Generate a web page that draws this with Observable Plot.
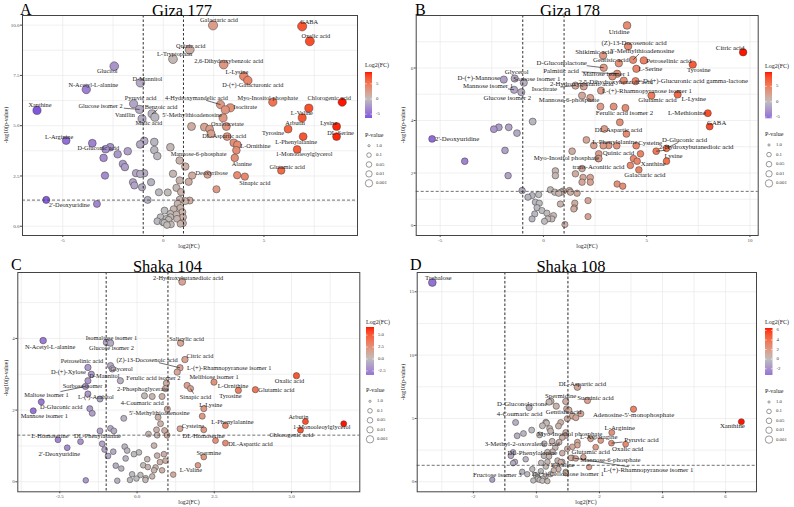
<!DOCTYPE html>
<html>
<head>
<meta charset="utf-8">
<script src="https://cdn.jsdelivr.net/npm/d3@7"></script>
<script src="https://cdn.jsdelivr.net/npm/@observablehq/plot@0.6"></script>
<style>
  html, body { margin: 0; padding: 0; background: #fff; }
  #page { position: relative; width: 794px; height: 507px; overflow: hidden; font-family: "Liberation Serif", "DejaVu Serif", serif; }
</style>
</head>
<body>
<div id="page"></div>
<script>
// ---------- Data: [metabolite, log2(FC), -log10(p)] for labelled points; [log2(FC), -log10(p)] for the rest ----------

const giza177Labeled = [
  ["Xanthine", -6.28, 5.76], ["2'-Deoxyuridine", -5.82, 1.31], ["L-Arginine", -4.83, 4.26],
  ["N-Acetyl-L-alanine", -3.83, 6.80], ["Glucitol", -2.44, 7.96], ["D-Mannitol", -1.14, 7.13],
  ["D-Gluconic acid", -3.53, 4.13], ["Pyruvic acid", -1.48, 6.09], ["Glucose isomer 2", -1.18, 5.81],
  ["Benzoic acid", -0.56, 5.59], ["Vanillin", -1.06, 5.34], ["Malic acid", -0.42, 5.42],
  ["Quinic acid", 1.31, 8.78], ["L-Tryptophan", 0.48, 8.31], ["Galactaric acid", 2.47, 9.99],
  ["2,6-Dihydroxybenzoic acid", 3.0, 8.04], ["L-Lysine", 4.0, 7.46], ["D-(+)-Galacturonic acid", 4.2, 7.25],
  ["4-Hydroxymandelic acid", 2.84, 6.05], ["Isocitrate", 3.33, 5.89], ["5'-Methylthioadenosine", 2.97, 5.39],
  ["Oxaloacetate", 3.13, 4.96], ["DL-Aspartic acid", 3.17, 4.46], ["L-Ornithine", 3.63, 3.78],
  ["Mannose-6-phosphate", 0.81, 3.27], ["Alanine", 3.55, 3.40], ["Deoxyribose", 2.2, 2.57],
  ["Sinapic acid", 4.05, 2.47], ["Myo-Inositol phosphate", 5.44, 6.17], ["GABA", 6.9, 9.94],
  ["Oxalic acid", 7.28, 9.2], ["Chlorogenic acid", 8.89, 6.17], ["L-Valine", 7.23, 5.87],
  ["Arbutin", 6.9, 5.39], ["Lysine", 8.61, 4.96], ["DL-Serine", 8.61, 4.46], ["Tyrosine", 6.2, 4.83],
  ["L-Phenylalanine", 6.95, 4.46], ["1-Monooleoylglycerol", 6.65, 3.82], ["Glutamic acid", 5.86, 2.77]
];
const giza177Other = [
  [-3.3, 1.11], [-2.87, 3.83], [-2.64, 3.93], [-2.27, 3.58], [-2.97, 3.40], [-1.77, 3.73], [-2.01, 3.1],
  [-1.91, 2.94], [-2.9, 2.52], [-1.36, 2.64], [-1.15, 2.6], [-0.95, 2.64], [-1.51, 2.19], [-1.44, 2.03],
  [-1.06, 1.94], [-0.61, 2.19], [-0.78, 1.31], [-1.15, 4.07], [-0.95, 4.24], [-0.45, 4.19], [-0.45, 3.79],
  [-0.3, 3.49], [-0.22, 1.69],
  [1.4, 4.96], [2.04, 4.93], [2.3, 4.83], [2.37, 4.6], [3.08, 5.79], [3.5, 4.15], [3.68, 4.05],
  [1.43, 2.52], [2.64, 1.84], [3.67, 2.54], [0.35, 3.93], [1.09, 2.97], [0.48, 2.61], [0.81, 2.28],
  [1.26, 2.21], [0.65, 1.91], [0.22, 1.68], [0.88, 1.7], [0.81, 1.32], [1.09, 1.25], [0.71, 1.12],
  [1.31, 1.28], [0.85, 0.91], [0.51, 0.85], [0.06, 0.78], [0.35, 0.62], [0.65, 0.58], [0.98, 0.45],
  [0.26, 0.32], [-0.02, 0.2], [0.18, 0.06], [0.85, 0.12], [-0.3, 0.25], [0.05, 0.17], [0.35, 0.45],
  [0.68, 0.37], [0.95, 0.7], [-0.14, 0.45], [0.15, 0.37], [0.38, 0.09], [0.98, 0.15]
];

const giza178Labeled = [
  ["2'-Deoxyuridine", -5.39, 3.30], ["D-(+)-Mannose", -1.92, 5.56], ["Glycerol", -1.39, 5.6],
  ["Sorbose isomer 1", -0.95, 5.44], ["Mannose isomer 1", -1.42, 5.17], ["Glucose isomer 2", -1.07, 5.08],
  ["D-Gluconolactone", 2.92, 6.01], ["Palmitic acid", 3.57, 5.78], ["Maltose isomer 1", 3.34, 5.68],
  ["Shikimic acid", 2.89, 6.48], ["Gentisic acid", 3.65, 6.18], ["(Z)-13-Docosenoic acid", 4.1, 6.83],
  ["Uridine", 4.05, 7.62], ["5'-Methylthioadenosine", 4.34, 6.31], ["Petroselinic acid", 4.86, 6.29],
  ["L-Serine", 4.5, 5.97], ["Tyrosine", 7.23, 6.13], ["Citric acid", 9.67, 6.6],
  ["2,5-Dihydroxybenzoic acid", 3.89, 5.52], ["D-(+)-Glucuronic acid gamma-lactone", 4.46, 5.5],
  ["2-Hydroxyglutaric acid", 1.95, 5.3], ["Isocitrate", 1.55, 5.33],
  ["L-(+)-Rhamnopyranose isomer 1", 2.79, 5.14], ["Mannose-6-phosphate", 1.87, 4.95],
  ["Glutamic acid", 5.23, 4.95], ["L-Lysine", 6.5, 4.99], ["L-Methionine", 7.96, 4.28], ["GABA", 8.05, 3.77],
  ["Ferulic acid isomer 2", 3.97, 4.48], ["DL-Aspartic acid", 4.02, 3.49], ["L-Phenylalanine", 3.16, 3.05],
  ["Cysteine", 4.49, 3.04], ["D-Gluconic acid", 5.96, 2.94], ["2-Hydroxybutanedioic acid", 5.46, 2.83],
  ["Lysine", 5.96, 2.45], ["Xanthine", 4.54, 2.45], ["Galactaric acid", 4.62, 2.12],
  ["Quinic acid", 4.36, 2.55], ["Myo-Inositol phosphate", 2.66, 2.55], ["trans-Aconitic acid", 4.21, 2.29]
];
const giza178Other = [
  [-3.81, 2.45], [-2.4, 3.67], [-2.16, 3.74], [-1.68, 3.74], [-1.28, 3.52], [-1.86, 2.86], [-1.71, 1.9],
  [-0.52, 3.96], [-1.03, 1.33], [-0.75, 1.08], [-0.55, 1.14], [-0.23, 1.18], [-0.39, 0.89], [-0.2, 0.85],
  [-0.31, 0.68], [-0.07, 0.57], [0.17, 0.47], [0.41, 0.25], [0.21, 0.25], [0.05, 0.16], [0.49, 0.38],
  [-0.42, 0.44], [-0.55, 0.25], [1.04, 0.04], [0.34, 1.36], [0.55, 1.27], [0.74, 1.23], [0.95, 1.31],
  [0.82, 0.82], [0.58, 1.9], [0.58, 2.08], [1.26, 1.33], [1.63, 1.23], [1.52, 0.85], [1.47, 0.63],
  [2.16, 0.95], [2.16, 0.34], [3.57, 1.58], [3.84, 1.5], [3.4, 4.53], [2.76, 4.53], [3.7, 3.93],
  [2.95, 3.68], [2.44, 3.05], [2.08, 3.26], [2.9, 3.04], [3.55, 3.04], [2.68, 2.73], [2.68, 2.55],
  [4.7, 2.73], [1.39, 2.83], [1.92, 1.83], [2.27, 1.83], [2.27, 1.65], [1.87, 1.65], [2.27, 4.86],
  [0.86, 1.27], [1.31, 1.27], [1.5, 0.67], [1.55, 1.97], [1.87, 2.17]
];

const shaka104Labeled = [
  ["2-Hydroxybutanedioic acid", 1.46, 5.58], ["Salicylic acid", 1.41, 3.87], ["Citric acid", 1.55, 3.41],
  ["(Z)-13-Docosenoic acid", 1.39, 3.18], ["L-(+)-Rhamnopyranose isomer 1", 1.3, 3.06],
  ["Melibiose isomer 1", 1.62, 2.69], ["Sinapic acid", 1.73, 2.6], ["L-Ornithine", 2.49, 2.78],
  ["Tyrosine", 3.28, 2.55], ["Glutamic acid", 3.83, 2.57], ["Oxalic acid", 5.16, 2.96],
  ["L-Lysine", 2.16, 2.04], ["L-Phenylalanine", 2.86, 1.57], ["Cysteine", 1.39, 1.48],
  ["DL-Homoserine", 2.54, 1.15], ["DL-Aspartic acid", 2.86, 1.08], ["Spermine", 2.16, 0.69],
  ["L-Valine", 1.97, 0.46], ["Arbutin", 5.45, 1.68], ["1-Monooleoylglycerol", 6.69, 1.62],
  ["Chlorogenic acid", 5.29, 1.44], ["N-Acetyl-L-alanine", -3.04, 3.94], ["Isomaltose isomer 1", -0.99, 3.89],
  ["Glucose isomer 2", -0.86, 3.87], ["Petroselinic acid", -1.59, 3.19], ["Glycerol", -0.86, 3.24],
  ["D-(+)-Xylose", -1.48, 3.0], ["D-Mannitol", -0.8, 3.15], ["Ferulic acid isomer 2", 0.95, 2.75],
  ["Sorbose isomer 1", -1.59, 2.82], ["Maltose isomer 1", -1.67, 2.66], ["L-(-)-Arabitol", -1.59, 2.45],
  ["D-Gluconic acid", -3.1, 2.23], ["Mannose isomer 1", -3.36, 1.98], ["2-Phosphoglycerate", 0.24, 2.4],
  ["4-Coumaric acid", 0.49, 2.38], ["5'-Methylthioadenosine", 0.98, 2.03], ["L-Homoserine", -2.56, 1.17],
  ["DL-Phenylalanine", -1.83, 1.12], ["2'-Deoxyuridine", -2.26, 0.95]
];
const shaka104Other = [
  [-1.2, 2.31], [-1.53, 2.04], [-1.45, 1.91], [-1.2, 1.42], [-0.86, 1.49], [-0.75, 1.42], [-1.13, 1.06],
  [-1.05, 0.9], [-0.43, 1.77], [-1.66, 0.04], [-0.54, 2.82], [-0.32, 0.87], [-0.1, 0.77], [0.06, 0.82],
  [0.33, 0.63], [0.2, 0.46], [-0.37, 0.65], [-0.69, 0.45], [-0.51, 0.37], [-0.64, 0.03], [-0.16, 0.21],
  [-0.02, 0.09], [-0.23, 0.05], [0.11, 0.19], [0.27, 0.05], [0.49, 0.15], [0.6, 0.4], [0.65, 0.73],
  [0.87, 0.77], [0.92, 0.59], [-0.77, 0.84], [-0.94, 0.72], [-0.4, 0.98], [0.81, 2.38], [0.68, 1.8],
  [0.76, 1.62], [0.63, 1.45], [0.89, 1.43], [0.37, 1.33], [0.65, 1.3], [0.97, 1.3], [0.55, 1.01],
  [0.74, 0.55], [0.81, 0.32], [0.55, 0.32], [0.28, 0.1], [0.35, 0.41], [1.17, 0.2], [2.11, 1.83],
  [2.16, 1.45], [0.92, 2.6]
];

const shaka108Labeled = [
  ["Trehalose", -3.3, 15.73], ["Fructose isomer 3", -1.4, 0.16], ["D-Gluconolactone", -0.23, 5.86],
  ["4-Coumaric acid", -0.66, 4.68], ["Spermidine", 0.93, 6.34], ["DL-Aspartic acid", 1.3, 7.47],
  ["Succinic acid", 1.62, 6.42], ["Gentisic acid", 0.96, 5.76], ["Adenosine-5'-monophosphate", 3.08, 5.73],
  ["Xanthine", 6.5, 4.74], ["L-Arginine", 2.39, 3.89], ["L-Asparagine", 2.04, 3.26],
  ["Pyruvic acid", 2.38, 3.05], ["Oxalic acid", 2.83, 2.97], ["Glutamic acid", 1.88, 2.73],
  ["Mannose-6-phosphate", 1.49, 1.94], ["L-(+)-Rhamnopyranose isomer 1", 1.14, 1.89],
  ["Myo-Inositol phosphate", 0.93, 3.65], ["3-Methyl-2-oxovaleric acid", 0.72, 3.13],
  ["DL-Phenylalanine", 0.35, 2.34], ["L-Valine", 0.77, 1.55], ["D-(+)-Cellobiose isomer 1", 0.93, 0.68]
];
const shaka108Other = [
  [-0.41, 3.81], [-0.61, 3.63], [-0.15, 4.08], [-0.74, 2.32], [-0.81, 2.05], [-0.68, 1.57], [-0.74, 1.47],
  [-0.34, 1.78], [-0.45, 0.79], [-0.29, 0.6], [-0.13, 1.0], [-0.02, 0.53], [0.03, 0.21], [0.19, 0.08],
  [0.35, 0.05], [0.29, 0.42], [0.14, 0.84], [0.24, 2.05], [0.4, 2.0], [0.51, 2.37], [0.35, 1.57],
  [0.6, 1.26], [0.19, 4.42], [0.32, 4.63], [0.42, 4.21], [0.77, 4.68], [0.93, 3.89], [0.82, 3.5],
  [0.98, 4.98], [1.14, 5.19], [1.25, 5.06], [0.63, 5.97], [0.4, 6.29], [1.03, 5.66], [1.14, 2.76],
  [1.3, 2.89], [1.25, 1.84], [0.93, 0.79], [0.82, 1.57], [0.05, 0.3], [0.1, 0.15], [-0.1, 0.1],
  [0.2, 0.25], [0.45, 0.6], [0.55, 0.9], [0.7, 1.0], [0.5, 3.2], [0.6, 2.7], [0.25, 3.0], [0.45, 4.0],
  [0.1, 3.7], [0.7, 4.4], [0.3, 1.2], [0.15, 1.5], [1.41, 5.37], [1.72, 3.39], [1.3, 3.13], [0.98, 2.6],
  [0.82, 2.26], [1.09, 1.89], [0.67, 1.68], [1.67, 1.16], [0.3, 4.7], [0.46, 6.36]
];

// Thresholds drawn as dashed guides
const fcCutoffs = [-1, 1];
const pCutoff = -Math.log10(0.05);

// Size-legend entries
const pLegendLabels = ["1.0", "0.1", "0.05", "0.01", "0.001"];

// ---------- Layout (label offsets in px: [dx, dy, draw connector]) ----------
const SERIF = "'Liberation Serif', 'DejaVu Serif', serif";

const nudges177 = {
  "Xanthine": [3, -5], "L-Arginine": [-7, -4], "N-Acetyl-L-alanine": [7, -5], "Glucitol": [-7, 5],
  "D-Mannitol": [7, -4], "Pyruvic acid": [7, -6], "Glucose isomer 2": [-39, -3, 1], "Benzoic acid": [9, -7, 1],
  "Vanillin": [-17, -4], "Malic acid": [-6, 6], "5'-Methylthioadenosine": [-31, -3], "4-Hydroxymandelic acid": [-24, -7, 1],
  "D-Gluconic acid": [6, 5], "2'-Deoxyuridine": [23, 5], "L-Tryptophan": [1.5, -5], "Quinic acid": [1, -4],
  "Galactaric acid": [6, -5], "2,6-Dihydroxybenzoic acid": [5, -4], "L-Lysine": [-7, -4], "D-(+)-Galacturonic acid": [5, 5],
  "Myo-Inositol phosphate": [-5, -4], "Isocitrate": [15, -1], "Oxaloacetate": [1, -3], "DL-Aspartic acid": [-3, -1],
  "L-Ornithine": [19, -4], "Mannose-6-phosphate": [19, -7], "Alanine": [7, 6], "Deoxyribose": [4, -2],
  "Sinapic acid": [10, 6], "Glutamic acid": [6, -4], "GABA": [7, -4], "Oxalic acid": [6, -5],
  "Chlorogenic acid": [-13, -4], "L-Valine": [-7, 5], "Arbutin": [-7, 5], "Lysine": [-8, -4], "DL-Serine": [4, -4],
  "Tyrosine": [-15, 4], "L-Phenylalanine": [-7, 5], "1-Monooleoylglycerol": [7, 5]
};
const nudges178 = {
  "2'-Deoxyuridine": [25, 0], "D-(+)-Mannose": [-25, -2], "Glycerol": [2, -7], "Sorbose isomer 1": [13, -4],
  "Mannose isomer 1": [-26, -4, 1], "Glucose isomer 2": [-14, 6], "D-Gluconolactone": [-42, -5, 1],
  "Palmitic acid": [-56, -3, 1], "Maltose isomer 1": [-6, -3], "Shikimic acid": [-9, -4], "Gentisic acid": [-8, -3],
  "(Z)-13-Docosenoic acid": [6, -3], "Uridine": [-8, 6], "5'-Methylthioadenosine": [9, -9, 1],
  "Petroselinic acid": [25, 0], "L-Serine": [14, 0], "Tyrosine": [6, 5], "Citric acid": [-13, -4],
  "2,5-Dihydroxybenzoic acid": [-8, 1], "D-(+)-Glucuronic acid gamma-lactone": [60, 0, 1],
  "2-Hydroxyglutaric acid": [-2, -3], "Isocitrate": [-31, 3, 1], "L-(+)-Rhamnopyranose isomer 1": [46, 0],
  "Mannose-6-phosphate": [-13, 4], "Glutamic acid": [6, 4], "L-Lysine": [16, 4], "L-Methionine": [-21, 0],
  "GABA": [7, -4], "Ferulic acid isomer 2": [-1, 5], "DL-Aspartic acid": [-8, -4], "L-Phenylalanine": [6, -4],
  "Cysteine": [14, -3], "D-Gluconic acid": [18, -9, 1], "2-Hydroxybutanedioic acid": [40, -4, 1],
  "Lysine": [7, -5], "Xanthine": [16, 3], "Galactaric acid": [6, 5], "Quinic acid": [-15, -6],
  "Myo-Inositol phosphate": [-32, -1, 1], "trans-Aconitic acid": [-32, 1]
};
const nudges104 = {
  "2-Hydroxybutanedioic acid": [6, -4], "Salicylic acid": [6, -4], "Citric acid": [15, -4],
  "(Z)-13-Docosenoic acid": [-33, -8, 1], "L-(+)-Rhamnopyranose isomer 1": [52, -4], "Melibiose isomer 1": [27, -8],
  "Sinapic acid": [5, 8, 1], "L-Ornithine": [19, 4], "Tyrosine": [-8, 6], "Glutamic acid": [21, 0],
  "Oxalic acid": [-7, 5], "L-Lysine": [7, -4], "L-Phenylalanine": [7, -4], "Cysteine": [13, -3],
  "DL-Homoserine": [-12, -5], "DL-Aspartic acid": [25, 1], "Spermine": [5, -4], "L-Valine": [-7, 5],
  "Arbutin": [-7, -5], "1-Monooleoylglycerol": [-22, 3], "Chlorogenic acid": [-9, 5], "N-Acetyl-L-alanine": [7, 6],
  "Isomaltose isomer 1": [5, -4], "Glucose isomer 2": [1, 5], "Petroselinic acid": [-6, -7], "Glycerol": [11, 3],
  "D-(+)-Xylose": [-23, -2], "D-Mannitol": [-8, 7], "Ferulic acid isomer 2": [-13, -5], "Sorbose isomer 1": [-3, 5],
  "Maltose isomer 1": [-39, 8, 1], "L-(-)-Arabitol": [8, 3], "D-Gluconic acid": [20, 5], "Mannose isomer 1": [11, 5],
  "2-Phosphoglycerate": [-2, -7], "4-Coumaric acid": [-10, 6], "5'-Methylthioadenosine": [-8, 4],
  "L-Homoserine": [-8, -4], "DL-Phenylalanine": [17, -6], "2'-Deoxyuridine": [-8, 6]
};
const nudges108 = {
  "Trehalose": [6, -5], "Fructose isomer 3": [5, -5], "D-Gluconolactone": [-7, -4], "4-Coumaric acid": [4, -9],
  "Spermidine": [-5, -6], "DL-Aspartic acid": [5, -3], "Succinic acid": [8, -3], "Gentisic acid": [-3, 3],
  "Adenosine-5'-monophosphate": [0, 6], "Xanthine": [-9, 4], "L-Arginine": [8, -5], "L-Asparagine": [-2, -4],
  "Pyruvic acid": [30, -3, 1], "Oxalic acid": [2, 5], "Glutamic acid": [-5, 5], "Mannose-6-phosphate": [27, 3, 1],
  "L-(+)-Rhamnopyranose isomer 1": [76, 12, 1], "Myo-Inositol phosphate": [4, -2],
  "3-Methyl-2-oxovaleric acid": [-37, 2], "DL-Phenylalanine": [-15, 1], "L-Valine": [2, 3],
  "D-(+)-Cellobiose isomer 1": [2, 1]
};

const fmtInt = d => String(d);
const fmt1 = d => d.toFixed(1);

const panels = [
  {
    letter: "A", title: "Giza 177", labeled: giza177Labeled, other: giza177Other, nudge: nudges177,
    left: 0, top: 0, width: 360, height: 253, margin: [15, 3, 18, 22],
    xDomain: [-7.0, 9.65], yDomain: [-0.46, 10.48],
    xTicks: [-5, 0, 5], yTicks: [0, 2.5, 5, 7.5, 10], xFormat: fmtInt, yFormat: fmt1,
    xGridStep: 2.5, yGridStep: 1.25, rMax: 10, rRange: [3.4, 4.6], labelSize: 6.3,
    letterPos: [20, 14.5], titlePos: [182, 15.5],
    xTitle: [189, 248], yTitle: [7, 125],
    legend: { x: 365, titleY: 67, barTop: 72, barH: 46, barW: 7, ticks: [5, 0, -5], fmt: fmtInt,
              pTitleY: 137, pY0: 145.7, pStep: 9.4 }
  },
  {
    letter: "B", title: "Giza 178", labeled: giza178Labeled, other: giza178Other, nudge: nudges178,
    left: 395, top: 0, width: 366, height: 253, margin: [15, 3.3, 18, 20.7],
    xDomain: [-6.16, 10.4], yDomain: [-0.38, 8.0],
    xTicks: [-5, 0, 5, 10], yTicks: [0, 2, 4, 6], xFormat: fmtInt, yFormat: fmtInt,
    xGridStep: 2.5, yGridStep: 1, rMax: 8, rRange: [3.1, 3.9], labelSize: 6.8,
    letterPos: [415, 14.5], titlePos: [570, 15.5],
    xTitle: [587, 248], yTitle: [404, 125],
    legend: { x: 765, titleY: 67.5, barTop: 72, barH: 46.3, barW: 7, ticks: [5, 0, -5], fmt: fmtInt,
              pTitleY: 136.3, pY0: 145, pStep: 9.6 }
  },
  {
    letter: "C", title: "Shaka 104", labeled: shaka104Labeled, other: shaka104Other, nudge: nudges104,
    left: 0, top: 255, width: 362, height: 252, margin: [17, 2.7, 15.7, 17.3],
    xDomain: [-3.86, 7.21], yDomain: [-0.28, 5.84],
    xTicks: [-2.5, 0, 2.5, 5], yTicks: [0, 2, 4], xFormat: fmt1, yFormat: fmtInt,
    xGridStep: 1.25, yGridStep: 1, rMax: 5.6, rRange: [2.8, 3.5], labelSize: 6.4,
    letterPos: [11, 270.3], titlePos: [167.5, 271.5],
    xTitle: [189, 504], yTitle: [7, 378],
    legend: { x: 366, titleY: 324, barTop: 327, barH: 48, barW: 8, ticks: [5, 2.5, 0, -2.5], fmt: fmt1,
              pTitleY: 392, pY0: 401.3, pStep: 9.5 }
  },
  {
    letter: "D", title: "Shaka 108", labeled: shaka108Labeled, other: shaka108Other, nudge: nudges108,
    left: 395, top: 255, width: 364, height: 252, margin: [17, 3, 15.7, 21.7],
    xDomain: [-3.78, 6.98], yDomain: [-0.79, 16.52],
    xTicks: [-2, 0, 2, 4, 6], yTicks: [0, 5, 10, 15], xFormat: fmtInt, yFormat: fmtInt,
    xGridStep: 1, yGridStep: 2.5, rMax: 16, rRange: [2.7, 3.9], labelSize: 6.8,
    letterPos: [410, 270], titlePos: [571, 271.5],
    xTitle: [586, 504], yTitle: [404, 382],
    legend: { x: 765, titleY: 324, barTop: 328, barH: 47, barW: 7.5, ticks: [6, 4, 2, 0, -2], fmt: fmtInt,
              pTitleY: 393, pY0: 402, pStep: 9.4 }
  }
];

// Diverging fill: purple (down) - grey - red (up), centred on log2(FC) = 0
const fcInterpolate = d3.piecewise(d3.interpolateLab, ["#5326ea", "#bdbdbd", "#ff1400"]);

const page = document.getElementById("page");

function gridValues([lo, hi], step) {
  const out = [];
  for (let v = Math.ceil(lo / step) * step; v <= hi + 1e-9; v += step) out.push(+v.toFixed(6));
  return out;
}

function drawPanel(cfg) {
  const rows = cfg.labeled.map(([name, fc, nlp]) => ({ name, fc, nlp }))
    .concat(cfg.other.map(([fc, nlp]) => ({ name: "", fc, nlp })));
  const [mt, mr, mb, ml] = cfg.margin;
  const kx = (cfg.width - ml - mr) / (cfg.xDomain[1] - cfg.xDomain[0]);
  const ky = (cfg.height - mt - mb) / (cfg.yDomain[1] - cfg.yDomain[0]);
  const fs = cfg.labelSize;

  const labels = rows.filter(d => d.name).map(d => {
    const [dx, dy, link] = cfg.nudge[d.name] || [0, -6];
    const lab = { ...d, lx: d.fc + dx / kx, ly: d.nlp - dy / ky };
    if (link) {
      const hw = d.name.length * fs * 0.22 + 1, hh = fs * 0.45;
      const s = Math.min(1, dx ? hw / Math.abs(dx) : Infinity, dy ? hh / Math.abs(dy) : Infinity);
      lab.ex = d.fc + dx * (1 - s) / kx;
      lab.ey = d.nlp - dy * (1 - s) / ky;
    }
    return lab;
  });
  const links = labels.filter(d => d.ex !== undefined);

  const chart = Plot.plot({
    width: cfg.width, height: cfg.height,
    marginTop: mt, marginRight: mr, marginBottom: mb, marginLeft: ml,
    style: { fontFamily: SERIF, fontSize: "5px", color: "#4d4d4d", background: "transparent", overflow: "visible" },
    x: { domain: cfg.xDomain, ticks: cfg.xTicks, tickFormat: cfg.xFormat, tickSize: 2, tickPadding: 1, label: null },
    y: { domain: cfg.yDomain, ticks: cfg.yTicks, tickFormat: cfg.yFormat, tickSize: 2, tickPadding: 1, label: null },
    color: { type: "diverging", pivot: 0, symmetric: true, domain: d3.extent(rows, d => d.fc), interpolate: fcInterpolate },
    r: { type: "linear", domain: [0, cfg.rMax], range: cfg.rRange },
    marks: [
      Plot.ruleX(gridValues(cfg.xDomain, cfg.xGridStep), { stroke: "#e6e6e6", strokeWidth: 0.6 }),
      Plot.ruleY(gridValues(cfg.yDomain, cfg.yGridStep), { stroke: "#e6e6e6", strokeWidth: 0.6 }),
      Plot.dot(rows, { x: "fc", y: "nlp", r: "nlp", fill: "fc", stroke: "#3a3a3a", strokeWidth: 0.5 }),
      Plot.ruleX(fcCutoffs, { stroke: "#1a1a1a", strokeWidth: 0.9, strokeDasharray: "2.5,2" }),
      Plot.ruleY([pCutoff], { stroke: "#333", strokeWidth: 0.7, strokeDasharray: "3,2" }),
      Plot.link(links, { x1: "fc", y1: "nlp", x2: "ex", y2: "ey", stroke: "#111", strokeWidth: 0.6 }),
      Plot.text(labels, { x: "lx", y: "ly", text: "name", fontSize: fs, fill: "#1a1a1a", fontFamily: SERIF }),
      Plot.frame({ stroke: "#444", strokeWidth: 1 })
    ]
  });
  chart.style.position = "absolute";
  chart.style.left = cfg.left + "px";
  chart.style.top = cfg.top + "px";
  page.appendChild(chart);
  return { chart, extent: d3.extent(rows, d => d.fc) };
}

const drawn = panels.map(drawPanel);

// ---------- Titles, axis titles and legends ----------
const overlay = d3.select(page).append("svg")
  .attr("width", 794).attr("height", 507)
  .style("position", "absolute").style("left", "0px").style("top", "0px")
  .style("font-family", SERIF);
const defs = overlay.append("defs");

panels.forEach((cfg, i) => {
  const { chart, extent } = drawn[i];
  const colorScale = chart.scale("color");
  const [lo, hi] = extent;
  const g = overlay.append("g");

  g.append("text").attr("x", cfg.letterPos[0]).attr("y", cfg.letterPos[1])
    .attr("font-size", 16).attr("fill", "#000").text(cfg.letter);
  g.append("text").attr("x", cfg.titlePos[0]).attr("y", cfg.titlePos[1])
    .attr("text-anchor", "middle").attr("font-size", 16.5).attr("fill", "#000").text(cfg.title);

  g.append("text").attr("x", cfg.xTitle[0]).attr("y", cfg.xTitle[1])
    .attr("text-anchor", "middle").attr("font-size", 5.8).attr("fill", "#222").text("log2(FC)");
  g.append("text").attr("transform", `translate(${cfg.yTitle[0]},${cfg.yTitle[1]}) rotate(-90)`)
    .attr("text-anchor", "middle").attr("dominant-baseline", "middle")
    .attr("font-size", 5.8).attr("fill", "#222").text("-log10(p-value)");

  // colour bar
  const L = cfg.legend;
  const gid = "fcbar" + i;
  const grad = defs.append("linearGradient").attr("id", gid)
    .attr("x1", 0).attr("y1", 0).attr("x2", 0).attr("y2", 1);
  d3.range(0, 1.0001, 0.05).forEach(t => {
    grad.append("stop").attr("offset", t).attr("stop-color", colorScale.apply(hi - t * (hi - lo)));
  });
  g.append("text").attr("x", L.x).attr("y", L.titleY).attr("font-size", 6).attr("fill", "#222").text("Log2(FC)");
  g.append("rect").attr("x", L.x).attr("y", L.barTop).attr("width", L.barW).attr("height", L.barH)
    .attr("fill", `url(#${gid})`);
  L.ticks.forEach(v => {
    const y = L.barTop + (hi - v) / (hi - lo) * L.barH;
    g.append("line").attr("x1", L.x).attr("x2", L.x + 1.6).attr("y1", y).attr("y2", y)
      .attr("stroke", "#fff").attr("stroke-width", 0.6);
    g.append("line").attr("x1", L.x + L.barW - 1.6).attr("x2", L.x + L.barW).attr("y1", y).attr("y2", y)
      .attr("stroke", "#fff").attr("stroke-width", 0.6);
    g.append("text").attr("x", L.x + L.barW + 4).attr("y", y).attr("dominant-baseline", "middle")
      .attr("font-size", 4.8).attr("fill", "#333").text(L.fmt(v));
  });

  // p-value key
  g.append("text").attr("x", L.x).attr("y", L.pTitleY).attr("font-size", 6).attr("fill", "#222").text("P-value");
  const radii = [1.1, 2.3, 2.8, 3.2, 3.7];
  pLegendLabels.forEach((lab, k) => {
    const y = L.pY0 + k * L.pStep;
    g.append("circle").attr("cx", L.x + 4).attr("cy", y).attr("r", radii[k])
      .attr("fill", "#fff").attr("stroke", "#555").attr("stroke-width", 0.6);
    g.append("text").attr("x", L.x + 11).attr("y", y).attr("dominant-baseline", "middle")
      .attr("font-size", 4.8).attr("fill", "#333").text(lab);
  });
});
</script>
</body>
</html>
